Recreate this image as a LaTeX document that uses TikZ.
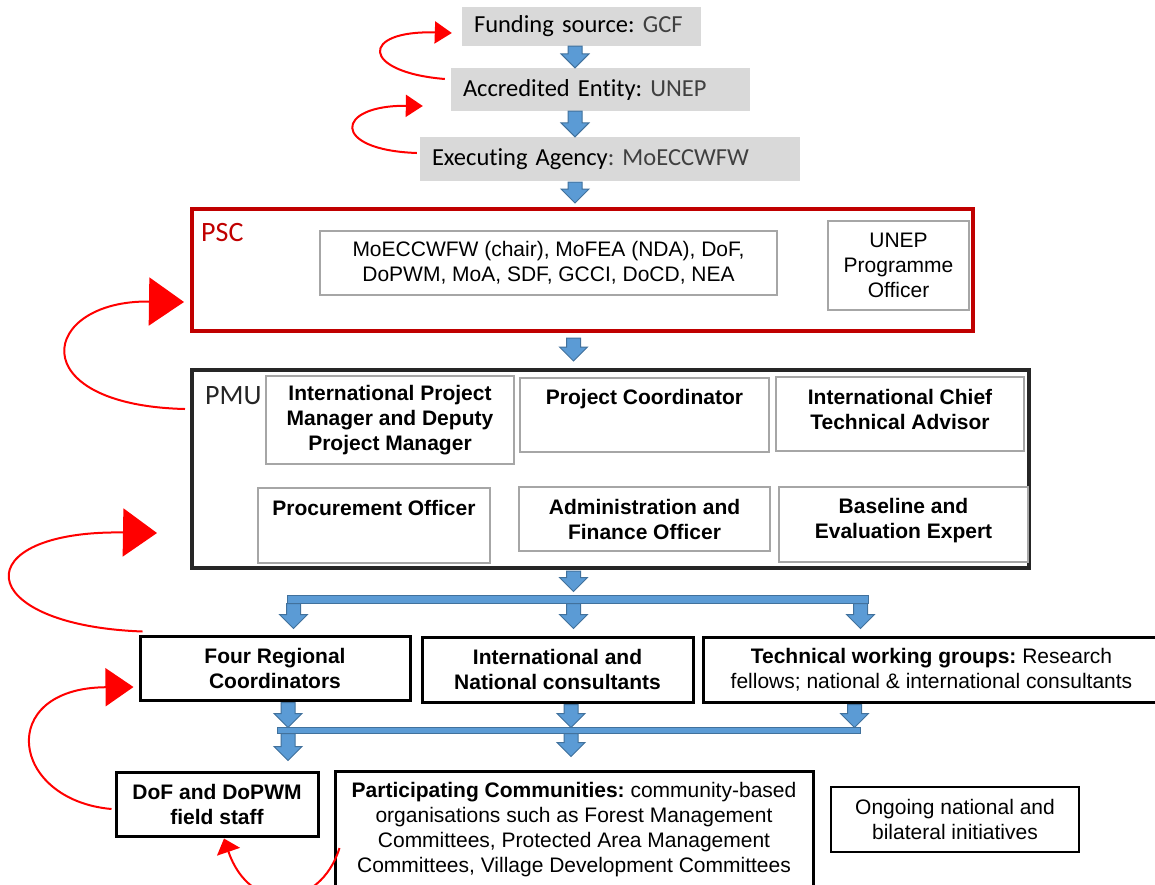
\documentclass[tikz,border=0pt]{standalone}
\usepackage{fontspec}
\setmainfont{Liberation Sans}
\newfontfamily\carlito[Ligatures=NoCommon]{Carlito}
\usetikzlibrary{calc,arrows.meta}
\frenchspacing
\definecolor{bfill}{HTML}{5B9BD5}
\definecolor{bline}{HTML}{41719C}
\definecolor{gfill}{HTML}{D9D9D9}
\definecolor{gline}{HTML}{A6A6A6}
\definecolor{pscred}{HTML}{C00000}
\definecolor{pmuline}{HTML}{262626}
\definecolor{curvered}{HTML}{FF0000}
\definecolor{lblgray}{HTML}{404040}
\newcommand{\blockarrow}[2]{\draw[blockarr] let \p1=#1, \p2=#2 in (\x1-7pt,\y1) -- (\x1+7pt,\y1) -- (\x1+7pt,\y2+14pt) -- (\x1+14pt,\y2+14pt) -- (\x1,\y2) -- (\x1-14pt,\y2+14pt) -- (\x1-7pt,\y2+14pt) -- cycle;}
\begin{document}
\begin{tikzpicture}[x=1pt,y=-1pt,
  every node/.style={font=\fontsize{21}{25}\selectfont},
  topbox/.style={fill=gfill, font=\carlito\fontsize{24.5}{29}\selectfont\frenchspacing, align=left, inner xsep=12pt, inner ysep=0pt},
  gbox/.style={draw=gline, line width=2.5pt, fill=white, align=center, inner sep=0pt},
  gboxb/.style={gbox, font=\fontsize{21}{25}\selectfont\bfseries},
  kbox/.style={draw=black, line width=3pt, fill=white, align=center, inner sep=0pt},
  bigframe/.style={line width=4pt, inner sep=0pt},
  framelbl/.style={anchor=west, inner sep=0pt, font=\carlito\fontsize{28}{32}\selectfont},
  blockarr/.style={fill=bfill, draw=bline, line width=1pt},
  barnode/.style={fill=bfill, draw=bline, line width=1pt, inner sep=0pt},
  redcurve/.style={draw=curvered, line width=2pt},
]
\useasboundingbox (0,0) rectangle (1155,884);
\fill[white] (0,0) rectangle (1155,884);

% axis coordinates
\coordinate (axis) at (575,0);
\coordinate (c1) at (293.5,0);
\coordinate (c2) at (573.5,0);
\coordinate (c3) at (860.5,0);
\coordinate (d1) at (288,0);
\coordinate (d2) at (571,0);
\coordinate (d3) at (854.5,0);

% top boxes
\node[topbox, text width=215pt, minimum height=39pt] (fund) at (581.5,26.5) {Funding source: {\color{lblgray}GCF}};
\node[topbox, text width=275pt, minimum height=43pt] (acc) at (600.5,89.5) {Accredited Entity: {\color{lblgray}UNEP}};
\node[topbox, text width=356pt, minimum height=44pt] (exec) at (610,159) {Executing Agency{\color{lblgray}: MoECCWFW}};

% PSC
\node[bigframe, draw=pscred, minimum width=781pt, minimum height=122pt] (psc) at (582.5,270) {};
\node[framelbl, text=pscred] (psclbl) at (201,233) {PSC};
\node[gbox, minimum width=457pt, minimum height=64pt] (pscin) at (548.5,263) {MoECCWFW (chair), MoFEA (NDA), DoF,\\DoPWM, MoA, SDF, GCCI, DoCD, NEA};
\node[gbox, minimum width=141pt, minimum height=89pt] (unep) at (898.5,265.5) {UNEP\\Programme\\Officer};

% PMU
\node[bigframe, draw=pmuline, minimum width=837pt, minimum height=198pt] (pmu) at (610.5,469) {};
\node[framelbl, text=pmuline] (pmulbl) at (205,396) {PMU};
\node[gboxb, minimum width=248pt, minimum height=88pt] (ipm) at (390,420) {International Project\\Manager and Deputy\\Project Manager};
\node[gboxb, minimum width=249pt, text height=26.5pt, text depth=47.5pt] (pc) at (644.5,415) {Project Coordinator};
\node[gboxb, minimum width=248pt, minimum height=74pt] (icta) at (900,414) {};
\node[font=\fontsize{21}{25}\selectfont\bfseries, align=center, inner sep=0pt] (ictatxt) at (900,409) {International Chief\\Technical Advisor};
\node[gboxb, minimum width=232pt, text height=27.5pt, text depth=47.5pt] (proc) at (374,525.5) {Procurement Officer};
\node[gboxb, minimum width=251pt, minimum height=64pt] (adm) at (644.5,519) {Administration and\\Finance Officer};
\node[gboxb, minimum width=249pt, minimum height=75pt] (base) at (903.5,524.5) {};
\node[font=\fontsize{21}{25}\selectfont\bfseries, align=center, inner sep=0pt] (basetxt) at (903.5,520.5) {Baseline and\\Evaluation Expert};

% row 3
\node[kbox, minimum width=270pt, minimum height=64pt, font=\fontsize{21}{25}\selectfont\bfseries] (frc) at (275,668) {Four Regional\\Coordinators};
\node[kbox, minimum width=271pt, minimum height=65pt, font=\fontsize{21}{25}\selectfont\bfseries] (inc) at (557.5,669.5) {International and\\National consultants};
\node[kbox, minimum width=457pt, minimum height=65pt] (twg) at (931.5,669.5) {\textbf{Technical working groups:} Research\\fellows; national \& international consultants};

% row 4
\node[kbox, minimum width=202pt, minimum height=64pt, font=\fontsize{21}{25}\selectfont\bfseries] (dof) at (217,804) {DoF and DoPWM\\field staff};
\node[kbox, minimum width=478pt, minimum height=118pt] (part) at (574,830) {\textbf{Participating Communities:} community-based\\organisations such as Forest Management\\Committees, Protected Area Management\\Committees, Village Development Committees};
\node[kbox, line width=2.5pt, minimum width=248pt, minimum height=65pt] (ong) at (955,819.5) {Ongoing national and\\bilateral initiatives};

% bars
\node[barnode, minimum width=581pt, minimum height=8pt] (bar1) at (577.5,599) {};
\node[barnode, minimum width=583pt, minimum height=6pt] (bar2) at (568.5,730) {};

% blue block arrows
\blockarrow{(axis |- fund.south)}{(axis |- acc.north)}
\blockarrow{(axis |- acc.south)}{(axis |- exec.north)}
\blockarrow{($(axis |- exec.south)+(0,1)$)}{($(axis |- psc.north)+(0,-4)$)}
\blockarrow{($(c2 |- psc.south)+(0,5)$)}{($(c2 |- pmu.north)+(0,-7)$)}
\blockarrow{($(c2 |- pmu.south)+(0,1)$)}{($(c2 |- bar1.north)+(0,-3)$)}
\blockarrow{(c1 |- bar1.south)}{($(c1 |- frc.north)+(0,-6)$)}
\blockarrow{(c2 |- bar1.south)}{($(c2 |- inc.north)+(0,-7)$)}
\blockarrow{(c3 |- bar1.south)}{($(c3 |- twg.north)+(0,-7)$)}
\blockarrow{($(d1 |- frc.south)+(0,1)$)}{($(d1 |- bar2.north)+(0,1)$)}
\blockarrow{($(d2 |- inc.south)+(0,1)$)}{($(d2 |- bar2.north)+(0,1)$)}
\blockarrow{($(d3 |- twg.south)+(0,1)$)}{($(d3 |- bar2.north)+(0,1)$)}
\blockarrow{(d1 |- bar2.south)}{($(d1 |- dof.north)+(0,-10)$)}
\blockarrow{(d2 |- bar2.south)}{($(d2 |- part.north)+(0,-13)$)}

% red curved arrows
\draw[redcurve, -{Triangle[length=17pt,width=22pt]}] ($(acc.west)+(-6,-10.5)$) .. controls (360,72) and (360,30) .. ($(fund.west)+(-10,6.5)$);
\draw[redcurve, -{Triangle[length=17pt,width=22pt]}] ($(exec.west)+(-3,-6)$) .. controls (330,150) and (335,105) .. ($(acc.west)+(-28,16.5)$);
\draw[redcurve, -{Triangle[length=35pt,width=48pt]}] ($(pmu.west)+(-5,-60)$) .. controls (20,405) and (40,300) .. ($(psc.west)+(-6,32)$);
\draw[redcurve, -{Triangle[length=34pt,width=48pt]}] ($(frc.north west)+(4,-3)$) .. controls (-30,625) and (-35,530) .. ($(pmu.west)+(-33,64)$);
\draw[redcurve, -{Triangle[length=28pt,width=38pt]}] ($(dof.west)+(-3,5)$) .. controls (10,800) and (-5,688) .. ($(frc.west)+(-5,19)$);
\draw[redcurve, -{Triangle[length=14pt,width=24pt]}] ($(part.west)+(6,18)$) .. controls (320,910) and (250,915) .. ($(dof.south)+(7,1)$);
\end{tikzpicture}
\end{document}
